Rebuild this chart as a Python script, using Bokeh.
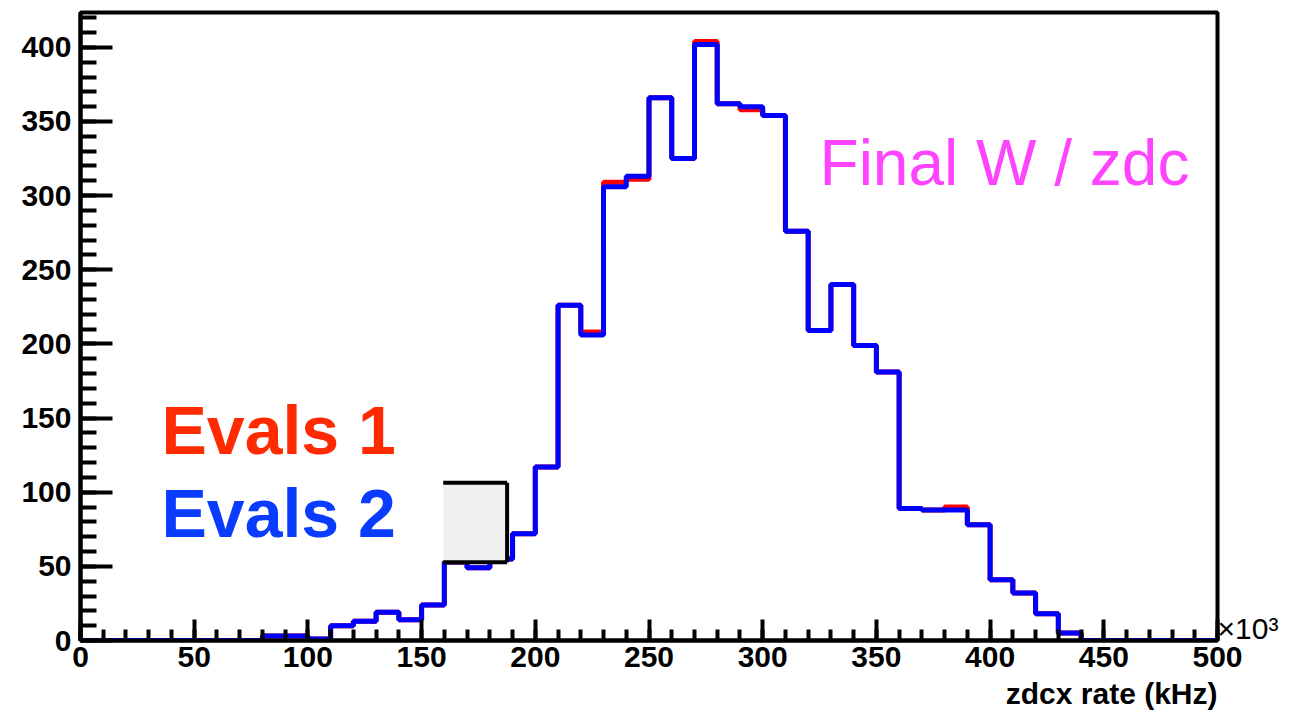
import numpy as np
from bokeh.plotting import figure
from bokeh.models import Label, SingleIntervalTicker, FixedTicker, Range1d, LinearAxis, Title
from bokeh.embed import file_html
from bokeh.resources import INLINE

# ---- data ----
bin_low = 0
bin_width = 10
n_bins = 50
evals2 = [0, 0, 0, 0, 0, 0, 0, 0, 3, 3,
          1, 10, 13, 19, 14, 24, 53, 49, 55, 72,
          117, 226, 206, 306, 313, 366, 325, 402, 362, 360,
          354, 276, 209, 240, 199, 181, 89, 88, 88, 78,
          41, 32, 18, 5, 0, 0, 0, 0, 0, 0]
evals1 = [0, 0, 0, 0, 0, 0, 0, 0, 3, 3,
          1, 10, 13, 19, 14, 24, 53, 49, 55, 72,
          117, 226, 208, 309, 311, 366, 325, 404, 362, 358,
          354, 276, 209, 240, 199, 181, 89, 88, 90, 78,
          41, 32, 18, 5, 0, 0, 0, 0, 0, 0]
x_ticks = [0, 50, 100, 150, 200, 250, 300, 350, 400, 450, 500]
y_ticks = [0, 50, 100, 150, 200, 250, 300, 350, 400]

edges = bin_low + bin_width * np.arange(n_bins + 1)

FONT = "Liberation Sans"

p = figure(width=1296, height=718, output_backend="svg", toolbar_location=None,
           x_range=Range1d(0, 500), y_range=Range1d(0, 423.5),
           min_border_left=80, min_border_right=79, min_border_top=12, min_border_bottom=78)
p.background_fill_color = "white"
p.border_fill_color = "white"
p.grid.visible = False
p.outline_line_color = "black"
p.outline_line_width = 4

# histograms as steps
p.step(list(edges), evals1 + [evals1[-1]], mode="after", line_color="#ff0000", line_width=5)
p.step(list(edges), evals2 + [evals2[-1]], mode="after", line_color="#0000ff", line_width=5)

# axes
for ax, ticks, maj, mnr in ((p.xaxis[0], x_ticks, 21, 11), (p.yaxis[0], y_ticks, 32, 16)):
    ax.ticker = SingleIntervalTicker(interval=50, num_minor_ticks=5)
    ax.axis_line_width = 4
    ax.axis_line_color = "black"
    ax.major_tick_in = maj
    ax.major_tick_out = 0
    ax.minor_tick_in = mnr
    ax.minor_tick_out = 0
    ax.major_tick_line_width = 4
    ax.minor_tick_line_width = 4
    ax.major_label_text_font = FONT
    ax.major_label_text_font_style = "bold"
    ax.major_label_text_font_size = "30px"
    ax.major_label_text_color = "black"
p.xaxis.major_label_standoff = 6
p.yaxis.major_label_standoff = 9
p.xaxis.major_label_overrides = {t: str(t) for t in x_ticks}
p.yaxis.major_label_overrides = {t: str(t) for t in y_ticks}

# multiplier shown at the right end of the x axis
rax = LinearAxis(ticker=FixedTicker(ticks=[8]), major_label_overrides={8: "\u00d710\u00b3"})
rax.axis_line_color = None
rax.major_tick_line_color = None
rax.minor_tick_line_color = None
rax.major_tick_in = 0
rax.major_tick_out = 0
rax.major_label_standoff = 0
rax.major_label_text_font = FONT
rax.major_label_text_font_size = "30px"
rax.major_label_text_color = "black"
p.add_layout(rax, "right")

# x-axis title, right aligned
p.add_layout(Title(text="zdcx rate (kHz)", align="right", text_font=FONT, text_font_style="bold",
                   text_font_size="30px", text_color="black", standoff=10, offset=0), "below")

# legend-like box remnant
p.quad(left=[159.5], right=[187.6], bottom=[52.8], top=[106.4],
       fill_color="#f0f0f0", line_color=None)
p.segment(x0=[159.5, 187.6, 159.5], y0=[106.4, 106.4, 52.8],
          x1=[187.6, 187.6, 187.6], y1=[106.4, 52.8, 52.8],
          line_color="black", line_width=4)

# texts
p.add_layout(Label(x=35.6, y=142, text="Evals 1", text_font=FONT, text_font_style="bold",
                   text_font_size="68px", text_color="#ff2a00", text_baseline="alphabetic"))
p.add_layout(Label(x=35.6, y=86, text="Evals 2", text_font=FONT, text_font_style="bold",
                   text_font_size="68px", text_color="#0a3cff", text_baseline="alphabetic"))
p.add_layout(Label(x=325, y=322, text="Final W / zdc", text_font=FONT,
                   text_font_size="64px", text_color="#ff44ff", text_baseline="alphabetic"))

open("out.html", "w").write(file_html(p, INLINE))
